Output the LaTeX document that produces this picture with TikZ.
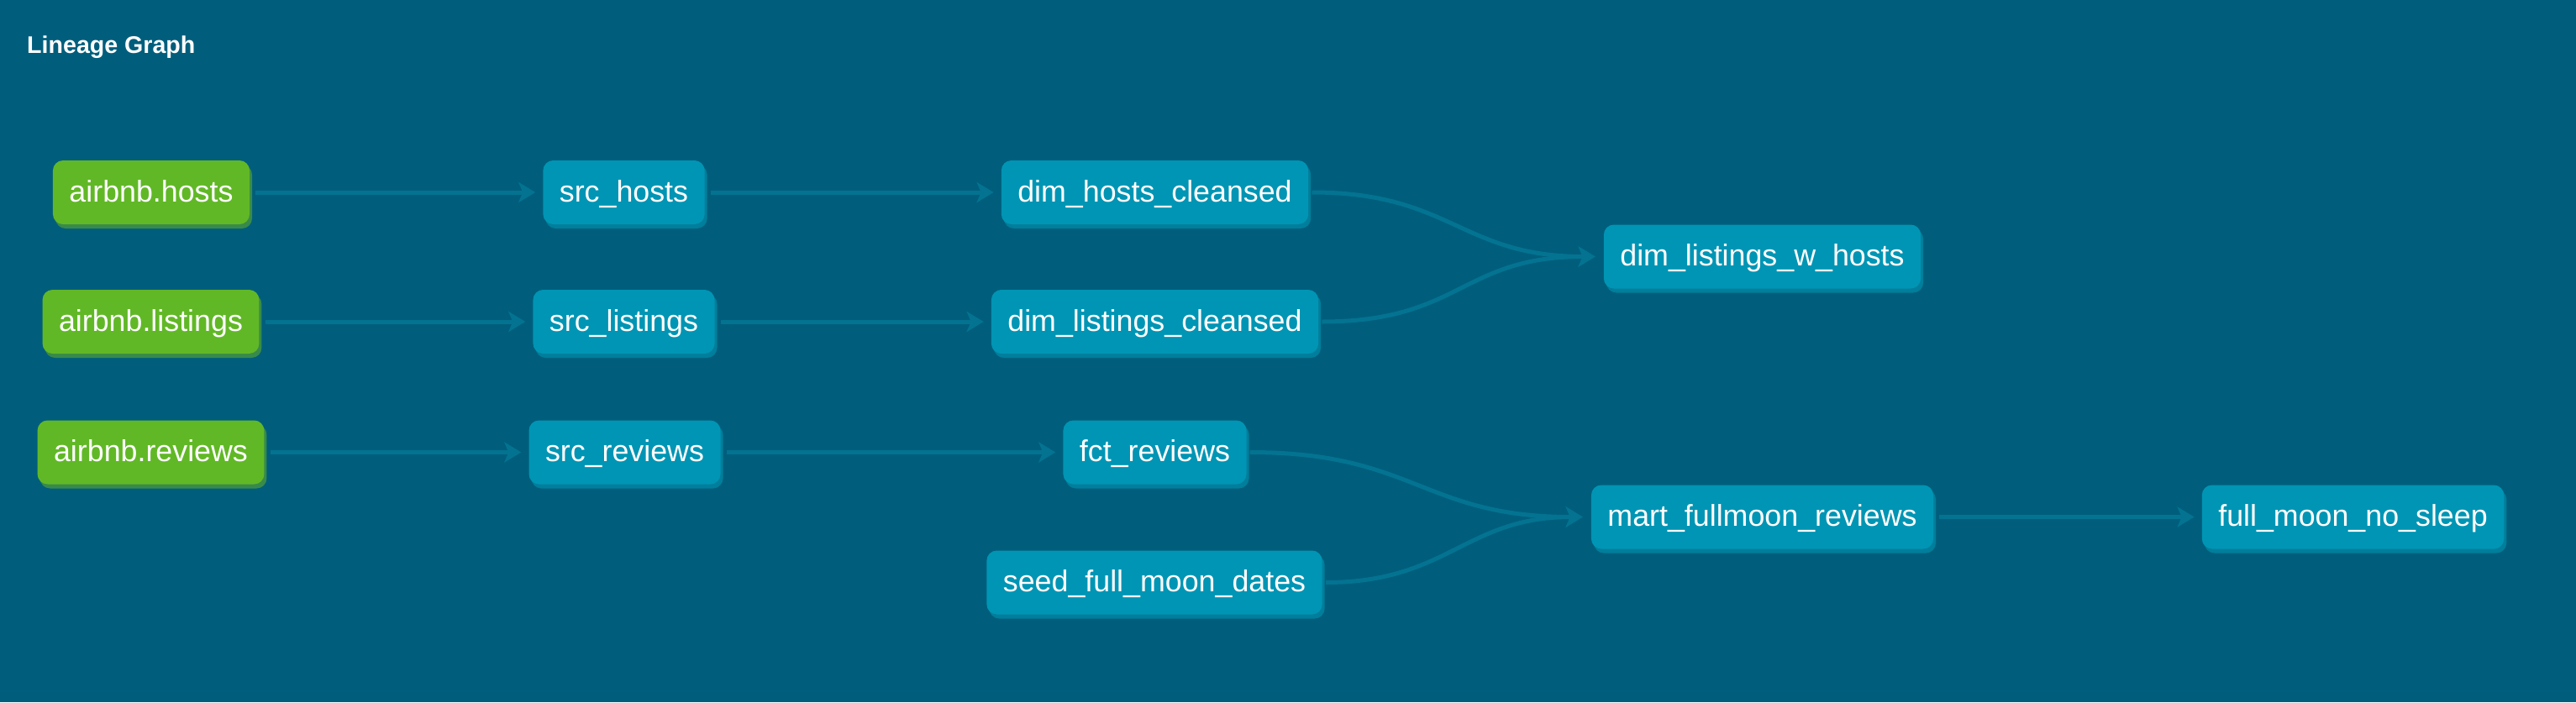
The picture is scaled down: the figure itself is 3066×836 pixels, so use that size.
\documentclass[tikz,border=0pt]{standalone}
\usepackage{fontspec}
\setmainfont{Liberation Sans}
\usetikzlibrary{arrows.meta,shadows}
\definecolor{bg}{HTML}{005E7C}
\definecolor{nodeblue}{HTML}{0095B4}
\definecolor{blueshadow}{HTML}{007E9B}
\definecolor{srcgreen}{HTML}{61B826}
\definecolor{greenshadow}{HTML}{388A4B}
\definecolor{edgecol}{HTML}{037391}
\begin{document}
\begin{tikzpicture}[x=1pt,y=-1pt,
  box/.style={rounded corners=12pt, text=white, font=\fontsize{35.8}{43}\selectfont,
    inner xsep=19.5pt, inner ysep=0pt, minimum height=76pt, text height=27pt, text depth=5pt},
  model/.style={box, fill=nodeblue, general shadow={fill=blueshadow, shadow xshift=3pt, shadow yshift=-5pt}},
  source/.style={box, fill=srcgreen, general shadow={fill=greenshadow, shadow xshift=3pt, shadow yshift=-5pt}},
  edge/.style={draw=edgecol, line width=5pt, -{Stealth[length=20pt,width=24pt,inset=5pt]},
    shorten <=7pt, shorten >=9pt},
  curve/.style={edge, shorten <=4pt, shorten >=10pt}]
\fill[bg] (0,0) rectangle (3066,836);
\useasboundingbox (0,0) rectangle (3066,836);
\node[anchor=base west, inner sep=0pt, text=white, font=\bfseries\fontsize{28.6}{34}\selectfont] (title) at (32,63) {Lineage Graph};

\node[source] (ah) at (180,229) {airbnb.hosts};
\node[source] (al) at (179.5,383) {airbnb.listings};
\node[source] (ar) at (179.5,538.5) {airbnb.reviews};

\node[model] (sh) at (742.5,229) {src\_hosts};
\node[model] (sl) at (742.5,383) {src\_listings};
\node[model] (sr) at (743.5,538.5) {src\_reviews};

\node[model] (dh) at (1374.5,229) {dim\_hosts\_cleansed};
\node[model] (dl) at (1374.5,383) {dim\_listings\_cleansed};
\node[model] (fr) at (1374.5,538.5) {fct\_reviews};
\node[model] (sd) at (1374,693.5) {seed\_full\_moon\_dates};

\node[model] (dw) at (2097.5,305.5) {dim\_listings\_w\_hosts};
\node[model] (mr) at (2097.5,615.5) {mart\_fullmoon\_reviews};
\node[model] (fm) at (2800.5,615.5) {full\_moon\_no\_sleep};

\draw[edge] (ah) -- (sh);
\draw[edge] (al) -- (sl);
\draw[edge] (ar) -- (sr);
\draw[edge] (sh) -- (dh);
\draw[edge] (sl) -- (dl);
\draw[edge] (sr) -- (fr);
\draw[curve] (dh.east) .. controls +(170,0) and +(-170,0) .. (dw.west);
\draw[curve] (dl.east) .. controls +(170,0) and +(-170,0) .. (dw.west);
\draw[curve] (fr.east) .. controls +(200,0) and +(-200,0) .. (mr.west);
\draw[curve] (sd.east) .. controls +(150,0) and +(-150,0) .. (mr.west);
\draw[edge] (mr) -- (fm);
\end{tikzpicture}
\end{document}
